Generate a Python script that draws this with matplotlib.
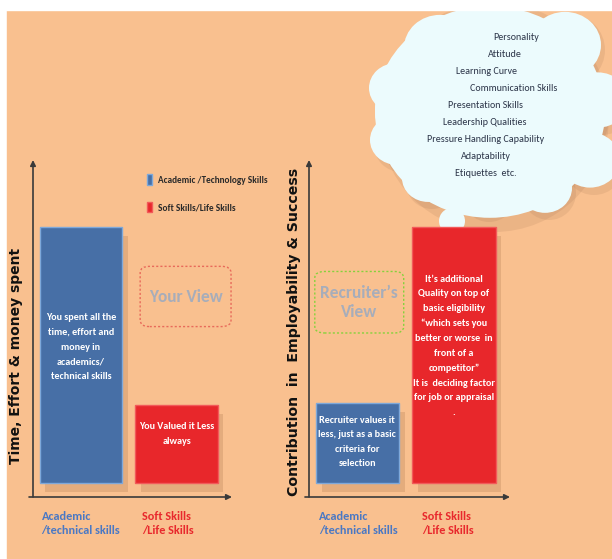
import matplotlib
matplotlib.use('Agg')
import matplotlib.pyplot as plt
from matplotlib.patches import Rectangle, Circle, Ellipse, FancyBboxPatch
from matplotlib.transforms import ScaledTranslation

## data
categories = ['Academic\n/technical skills', 'Soft Skills\n/Life Skills']
legend_labels = ['Academic /Technology Skills', 'Soft Skills/Life Skills']
your_view = [10.0, 3.05]          # time, effort & money spent
recruiter_view = [3.1, 10.0]      # contribution in employability & success
left_notes = ['You spent all the\ntime, effort and\nmoney in\nacademics/\ntechnical skills',
              'You Valued it Less\nalways']
right_notes = ['Recruiter values it\nless, just as a basic\ncriteria for\nselection',
               'It\u2019s additional\nQuality on top of\nbasic eligibility\n\u201cwhich sets you\n'
               'better or worse  in\nfront of a\ncompetitor\u201d\nIt is  deciding factor\n'
               'for job or appraisal\n.']
cloud_items = ['Personality', 'Attitude', 'Learning Curve', 'Communication Skills',
               'Presentation Skills', 'Leadership Qualities', 'Pressure Handling Capability',
               'Adaptability', 'Etiquettes  etc.']

fam = ['Carlito', 'DejaVu Sans']
BLUE = '#476FA6'
RED = '#E8272B'
ORANGE = '#F9C08F'
W, H = 612, 559

fig = plt.figure(figsize=(W / 100, H / 100), dpi=100)
fig.patch.set_facecolor('white')

## background + cloud in pixel space
bg = fig.add_axes([0, 0, 1, 1])
bg.set_xlim(0, W)
bg.set_ylim(H, 0)
bg.axis('off')
bg.add_patch(Rectangle((7, 10), W - 7, H - 10, color=ORANGE, zorder=0))

blobs = [(490, 112, 115), (440, 48, 36), (500, 40, 32), (565, 45, 36), (598, 100, 30),
         (590, 160, 30), (545, 188, 27), (485, 190, 27), (428, 178, 26), (397, 140, 27),
         (396, 88, 27), (545, 110, 60), (430, 110, 55)]
for cx, cy, r in blobs:
    bg.add_patch(Circle((cx + 4, cy + 5), r, color='#a07050', alpha=0.15, lw=0, zorder=1))
for cx, cy, r in blobs:
    bg.add_patch(Ellipse((cx, cy), 2 * r, 2 * r * 0.92, color='#ECFBFD', lw=0, zorder=2))
bg.add_patch(Rectangle((0, 0), W, 10, color='white', zorder=3))

xs = [516, 505, 487, 514, 486, 485, 486, 486, 486]
for i, (item, x) in enumerate(zip(cloud_items, xs)):
    bg.text(x, 38 + i * 16.9, item, ha='center', va='center', fontsize=7.2,
            color='#2B3448', family=fam, zorder=4)

## panels
def panel(px0, px1, values, notes, note_y, ylabel, ylab_pos, ylab_size, shifts):
    ax = fig.add_axes([px0 / W, (H - 497) / H, (px1 - px0) / W, (497 - 160) / H])
    ax.set_facecolor('none')
    ax.set_xlim(-0.5, 1.58)
    ax.set_ylim(-0.55, 12.6)
    for s in ax.spines.values():
        s.set_visible(False)
    x = [0, 1]
    ax.bar([p + 0.06 for p in x], values, width=0.86, bottom=-0.35,
           color='#8a5530', alpha=0.18, zorder=1)
    bars = ax.bar(x, values, width=0.86, color=[BLUE, RED],
                  edgecolor=['#7EA8DA', '#F25A5A'], linewidth=1, zorder=2)
    for xi, ny, note in zip(x, note_y, notes):
        ax.text(xi, ny, note, ha='center', va='center',
                color='white', fontsize=7.3, fontweight='bold', family=fam,
                linespacing=1.8, zorder=3)
    ax.annotate('', xy=(0, 1), xytext=(0, 0), xycoords='axes fraction',
                arrowprops=dict(arrowstyle='-|>', color='#3a3a3a', lw=1.2,
                                mutation_scale=8, shrinkA=0, shrinkB=0))
    ax.annotate('', xy=(1, 0), xytext=(-0.02, 0), xycoords='axes fraction',
                arrowprops=dict(arrowstyle='-|>', color='#3a3a3a', lw=1.2,
                                mutation_scale=8, shrinkA=0, shrinkB=0))
    ax.set_yticks([])
    ax.set_xticks(x, categories, fontsize=8.8, fontweight='bold', family=fam,
                  linespacing=1.4)
    ax.tick_params(axis='x', length=0, pad=10)
    for lbl, c, dx in zip(ax.get_xticklabels(), ['#4A78C4', '#E8292D'], shifts):
        lbl.set_color(c)
        lbl.set_multialignment('left')
        lbl.set_transform(lbl.get_transform() + ScaledTranslation(dx / 100, 0, fig.dpi_scale_trans))
    ax.set_ylabel(ylabel, fontsize=ylab_size, fontweight='bold', color='#111111')
    ax.yaxis.set_label_coords(*ylab_pos)
    return ax, bars

axl, barsl = panel(33, 232, your_view, left_notes, [5.3, 1.9],
                   'Time, Effort & money spent', (-0.05, 0.42), 10, [0, -9])
axr, barsr = panel(309, 510, recruiter_view, right_notes, [1.6, 5.35],
                   'Contribution  in  Employability & Success', (-0.04, 0.49), 10.2, [1, -6])

## legend
axl.legend([barsl[0], barsl[1]], legend_labels, loc='upper left', frameon=False,
           bbox_to_anchor=(139 / W, 1 - 166 / H), bbox_transform=fig.transFigure,
           handlelength=0.5, handleheight=1.3, handletextpad=0.6, labelspacing=1.9,
           prop=dict(family=fam, size=6.7, weight='bold'), labelcolor='#2a2a2a')

## view boxes
axl.add_patch(FancyBboxPatch((0.62, 6.1), 0.95, 2.35, boxstyle='round,pad=0,rounding_size=0.1',
                             fill=False, ec='#E86A5A', ls=(0, (1.5, 1.5)), lw=1, clip_on=False,
                             mutation_aspect=2.5))
axl.text(1.095, 7.27, 'Your View', ha='center', va='center', fontsize=12.5,
         fontweight='bold', color='#A7ADBA', family=fam)
axr.add_patch(FancyBboxPatch((-0.44, 5.85), 0.92, 2.4, boxstyle='round,pad=0,rounding_size=0.1',
                             fill=False, ec='#86D23C', ls=(0, (1.5, 1.5)), lw=1, clip_on=False,
                             mutation_aspect=2.5))
axr.text(0.02, 7.05, 'Recruiter\u2019s\nView', ha='center', va='center', fontsize=12.5,
         fontweight='bold', color='#A7ADBA', family=fam, linespacing=1.25)

## thought bubbles
bg.add_patch(Circle((452, 221), 13, color='#ECFBFD', lw=0, zorder=5))
bg.add_patch(Circle((446, 246), 11, color='#ECFBFD', lw=0, zorder=5))
bg.add_patch(Circle((449, 250), 6.5, color='#C8282C', lw=0, zorder=6))
bg.add_patch(Circle((446, 244), 6.5, color='#ECFBFD', lw=0, zorder=6))
bg.set_zorder(-1)

plt.savefig('out.png', dpi=100, facecolor=fig.get_facecolor())
